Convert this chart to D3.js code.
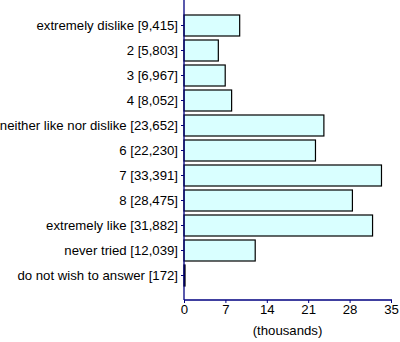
<!DOCTYPE html>
<html><head><meta charset="utf-8">
<script src="https://cdn.jsdelivr.net/npm/d3@7"></script>
<style>body{margin:0;background:#fff}svg{display:block}text{font-family:"Liberation Sans",Arial,sans-serif;font-size:13.2px;fill:#000}</style>
</head><body>
<script>
const categories = ["extremely dislike","2","3","4","neither like nor dislike","6","7","8","extremely like","never tried","do not wish to answer"];
const counts = [9415,5803,6967,8052,23652,22230,33391,28475,31882,12039,172];
const xTicks = [0,7,14,21,28,35];
const axisLabel = "(thousands)";

const W=400,H=342;
const svg=d3.select("body").append("svg").attr("width",W).attr("height",H);
const labels = categories.map((c,i)=>`${c} [${d3.format(",")(counts[i])}]`);
const x=d3.scaleLinear().domain([0,35]).range([184,391]);
const y=d3.scaleBand().domain(labels).range([13,288]).paddingInner(0.16).paddingOuter(0.08);
const axisColor="#000080";

svg.append("g").selectAll("rect").data(counts).join("rect")
  .attr("x",x(0)).attr("y",(d,i)=>y(labels[i]))
  .attr("width",d=>x(d/1000)-x(0)).attr("height",y.bandwidth())
  .attr("fill","#d9ffff").attr("stroke","#000").attr("stroke-width",1.2);

// y axis
const ya=svg.append("g").attr("transform",`translate(${x(0)},0)`)
  .call(d3.axisLeft(y).tickSize(3).tickPadding(3));
ya.select(".domain").remove();
ya.selectAll(".tick line").attr("stroke",axisColor);
ya.selectAll("text").style("font-size","13.2px");
svg.append("line").attr("x1",x(0)).attr("x2",x(0)).attr("y1",0).attr("y2",300).attr("stroke",axisColor).attr("stroke-width",1.3);

// x axis
const xa=svg.append("g").attr("transform","translate(0,300)")
  .call(d3.axisBottom(x).tickValues(xTicks).tickSize(3).tickPadding(2));
xa.select(".domain").remove();
xa.selectAll(".tick line").attr("stroke",axisColor);
xa.selectAll("text").style("font-size","13.2px");
svg.append("line").attr("x1",x(0)).attr("x2",x(35)+1).attr("y1",300).attr("y2",300).attr("stroke",axisColor).attr("stroke-width",1.3);

svg.append("text").attr("x",(x(0)+x(35))/2).attr("y",335).attr("text-anchor","middle").text(axisLabel);
</script>
</body></html>
